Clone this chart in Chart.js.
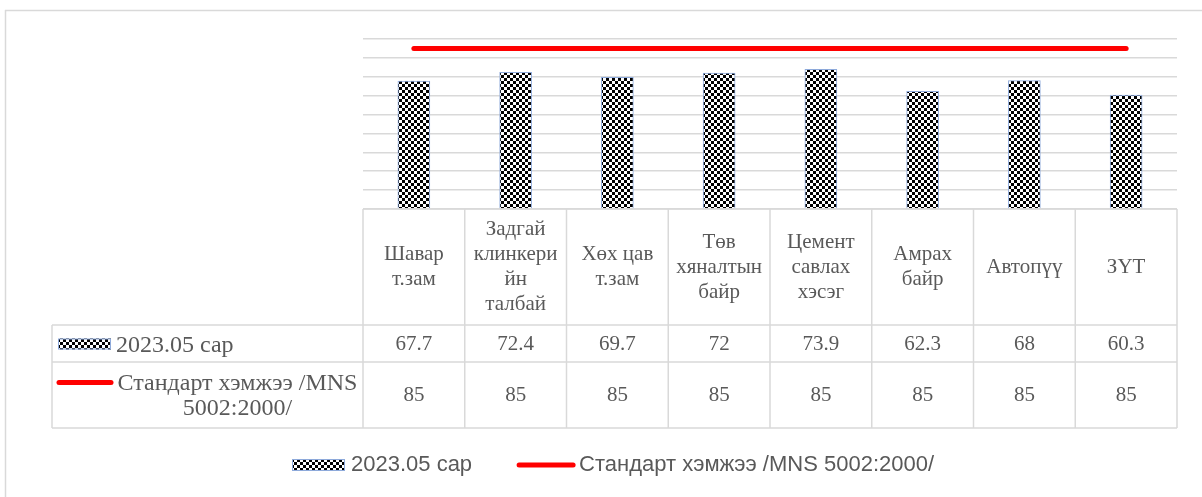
<!DOCTYPE html>
<html>
<head>
<meta charset="utf-8">
<script src="https://cdn.jsdelivr.net/npm/chart.js@4"></script>
<style>
  html, body { margin: 0; padding: 0; background: #fff; }
  canvas { display: block; }
</style>
</head>
<body>
<canvas id="chart" width="1202" height="497"></canvas>
<script>
// ---- data ----
const categories = [
  ['Шавар', 'т.зам'],
  ['Задгай', 'клинкери', 'йн', 'талбай'],
  ['Хөх цав', 'т.зам'],
  ['Төв', 'хяналтын', 'байр'],
  ['Цемент', 'савлах', 'хэсэг'],
  ['Амрах', 'байр'],
  ['Автопүү'],
  ['ЗҮТ']
];
const seriesNames = ['2023.05 сар', 'Стандарт хэмжээ /MNS 5002:2000/'];
const measured = [67.7, 72.4, 69.7, 72, 73.9, 62.3, 68, 60.3];
const standard = [85, 85, 85, 85, 85, 85, 85, 85];

// ---- look ----
const GRID = '#d9d9d9';
const TEXT = '#595959';
const RED = '#ff0000';
const BAR_EDGE = '#8eaadb';
const TABLE_FONT = '21px "Liberation Serif", "Times New Roman", serif';
const LABEL_FONT = '24px "Liberation Serif", "Times New Roman", serif';
const LEGEND_FONT = '22px "Liberation Sans", Arial, sans-serif';

// table rows (below the plot area)
const HEADER_BOTTOM = 325;
const ROW1_BOTTOM = 362;
const ROW2_BOTTOM = 428;
const TABLE_LEFT = 52;

function makeChecker() {
  const c = document.createElement('canvas');
  c.width = 6; c.height = 6;
  const g = c.getContext('2d');
  g.fillStyle = '#fff';
  g.fillRect(0, 0, 6, 6);
  g.fillStyle = '#000';
  g.fillRect(0, 0, 3, 3);
  g.fillRect(3, 3, 3, 3);
  return g.createPattern(c, 'repeat');
}

const checker = makeChecker();

function drawCheckerIcon(ctx, x, y, w, h) {
  ctx.save();
  ctx.fillStyle = checker;
  ctx.fillRect(x, y, w, h);
  ctx.strokeStyle = BAR_EDGE;
  ctx.lineWidth = 1;
  ctx.strokeRect(x + 0.5, y + 0.5, w - 1, h - 1);
  ctx.restore();
}

function drawRedIcon(ctx, x1, x2, y) {
  ctx.save();
  ctx.strokeStyle = RED;
  ctx.lineWidth = 5;
  ctx.lineCap = 'round';
  ctx.beginPath();
  ctx.moveTo(x1, y);
  ctx.lineTo(x2, y);
  ctx.stroke();
  ctx.restore();
}

function wrap(ctx, text, maxW) {
  const words = text.split(' ');
  const lines = [];
  let cur = '';
  words.forEach(w => {
    const t = cur ? cur + ' ' + w : w;
    if (ctx.measureText(t).width > maxW && cur) {
      lines.push(cur);
      cur = w;
    } else {
      cur = t;
    }
  });
  if (cur) lines.push(cur);
  return lines;
}

const dataTablePlugin = {
  id: 'dataTable',
  afterDraw(chart) {
    const ctx = chart.ctx;
    const area = chart.chartArea;
    const xs = chart.scales.x;
    const n = categories.length;
    const colW = (area.right - area.left) / n;

    ctx.save();
    // outer frame (top + left edge)
    ctx.strokeStyle = GRID;
    ctx.lineWidth = 1.5;
    ctx.beginPath();
    ctx.moveTo(5, 10.5); ctx.lineTo(chart.width, 10.5);
    ctx.moveTo(5.5, 10); ctx.lineTo(5.5, chart.height);
    ctx.stroke();

    // table grid
    ctx.beginPath();
    ctx.moveTo(area.left, area.bottom); ctx.lineTo(area.right, area.bottom);
    [HEADER_BOTTOM, ROW1_BOTTOM, ROW2_BOTTOM].forEach(y => {
      ctx.moveTo(TABLE_LEFT, y); ctx.lineTo(area.right, y);
    });
    ctx.moveTo(TABLE_LEFT, HEADER_BOTTOM); ctx.lineTo(TABLE_LEFT, ROW2_BOTTOM);
    for (let i = 0; i <= n; i++) {
      const x = area.left + i * colW;
      ctx.moveTo(x, area.bottom); ctx.lineTo(x, ROW2_BOTTOM);
    }
    ctx.stroke();

    ctx.fillStyle = TEXT;
    ctx.font = TABLE_FONT;
    ctx.textAlign = 'center';
    ctx.textBaseline = 'middle';

    // category header
    const lh = 25;
    const midH = (area.bottom + HEADER_BOTTOM) / 2;
    categories.forEach((lines, i) => {
      const cx = xs.getPixelForValue(i);
      const y0 = midH - (lines.length - 1) * lh / 2;
      lines.forEach((t, k) => ctx.fillText(t, cx, y0 + k * lh));
    });

    // values
    const mid1 = (HEADER_BOTTOM + ROW1_BOTTOM) / 2 + 1;
    const mid2 = (ROW1_BOTTOM + ROW2_BOTTOM) / 2;
    measured.forEach((v, i) => ctx.fillText(String(v), xs.getPixelForValue(i), mid1));
    standard.forEach((v, i) => ctx.fillText(String(v), xs.getPixelForValue(i), mid2));

    // row labels
    ctx.font = LABEL_FONT;
    const textL = TABLE_LEFT + 64;
    const textR = area.left - 4;
    drawCheckerIcon(ctx, TABLE_LEFT + 6, mid1 - 6, 53, 11);
    ctx.textAlign = 'left';
    ctx.fillText(seriesNames[0], textL, mid1 + 1);

    const lines = wrap(ctx, seriesNames[1], textR - textL);
    const y0 = mid2 - (lines.length - 1) * lh / 2;
    ctx.textAlign = 'center';
    lines.forEach((t, k) => ctx.fillText(t, (textL + textR) / 2, y0 + k * lh + 1));
    drawRedIcon(ctx, TABLE_LEFT + 7, TABLE_LEFT + 59, y0);

    // legend
    ctx.font = LEGEND_FONT;
    ctx.textAlign = 'left';
    const ly = 465;
    let lx = 292;
    drawCheckerIcon(ctx, lx, ly - 6, 53, 12);
    lx += 59;
    ctx.fillText(seriesNames[0], lx, ly);
    lx += ctx.measureText(seriesNames[0]).width + 47;
    drawRedIcon(ctx, lx, lx + 54, ly);
    lx += 60;
    ctx.fillText(seriesNames[1], lx, ly);
    ctx.restore();
  }
};

new Chart(document.getElementById('chart'), {
  type: 'bar',
  data: {
    labels: categories,
    datasets: [
      {
        label: seriesNames[0],
        data: measured,
        backgroundColor: checker,
        borderColor: BAR_EDGE,
        borderWidth: 1,
        barThickness: 32,
        order: 1
      },
      {
        type: 'line',
        label: seriesNames[1],
        data: standard,
        borderColor: RED,
        borderWidth: 5,
        borderCapStyle: 'round',
        pointRadius: 0,
        fill: false,
        order: 0
      }
    ]
  },
  options: {
    responsive: false,
    animation: false,
    devicePixelRatio: 1,
    layout: { padding: { left: 363, right: 25, top: 39, bottom: 288 } },
    plugins: {
      legend: { display: false },
      tooltip: { enabled: false }
    },
    scales: {
      x: { display: false },
      y: {
        min: 0,
        max: 90,
        ticks: { display: false, stepSize: 10 },
        border: { display: false },
        grid: { color: GRID, lineWidth: 1.5, drawTicks: false },
        afterFit: s => { s.width = 0; }
      }
    }
  },
  plugins: [dataTablePlugin]
});
</script>
</body>
</html>
